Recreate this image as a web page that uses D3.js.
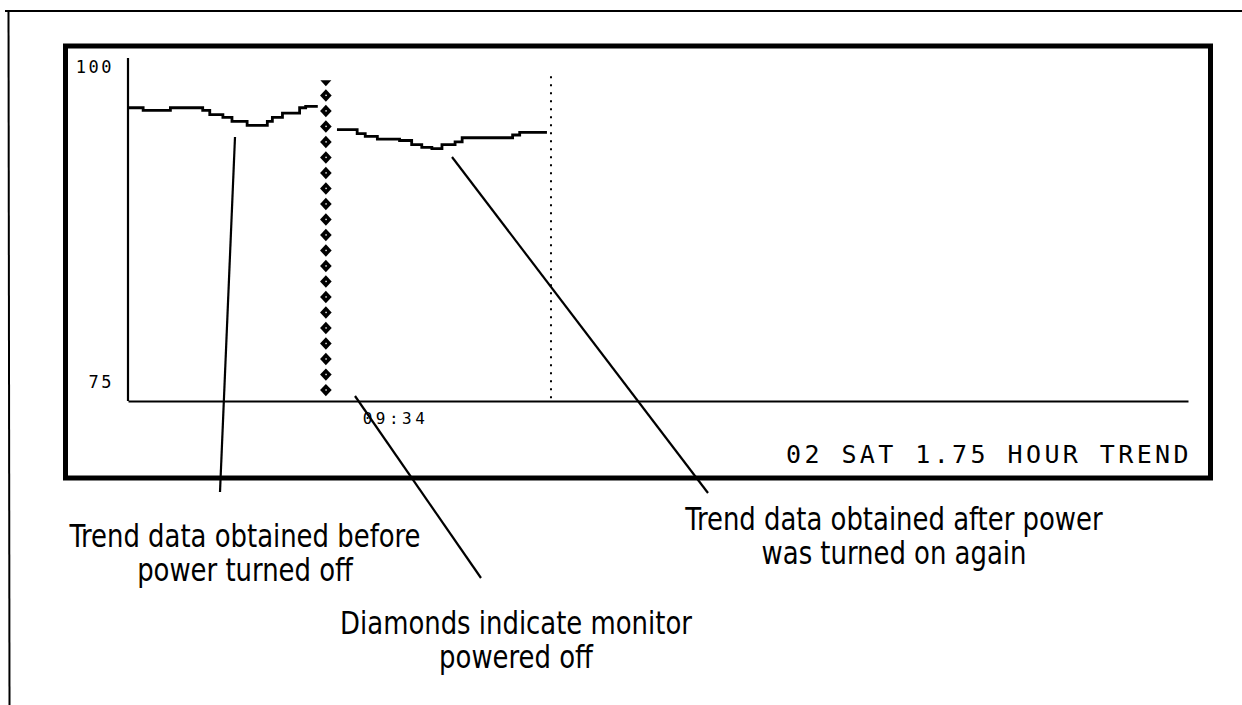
<!DOCTYPE html>
<html>
<head>
<meta charset="utf-8">
<script src="https://cdn.jsdelivr.net/npm/d3@7"></script>
<style>
  html, body { margin: 0; padding: 0; background: #fff; }
  svg { display: block; }
</style>
</head>
<body>
<svg id="chart" width="1242" height="705"></svg>
<script>
// ---------------- data ----------------
const yTickValues = [100, 75];
const yTickLabels = ["100", "75"];
const timeDomain = [0, 105];              // minutes across a 1.75 hour trend
const timeLabelMinutes = [26.5];
const timeLabels = ["09:34"];
const trendTitle = "02 SAT 1.75 HOUR TREND";

// trend before power off (minutes, % SpO2)
const beforeTime  = [0, 1.5, 4.2, 7.4, 8.1, 9.4, 10.3, 11.8, 13.8, 14.3, 15.3, 17.0, 17.6, 18.8];
const beforeValue = [96.5, 96.3, 96.5, 96.3, 96.0, 95.8, 95.5, 95.2, 95.5, 95.8, 96.1, 96.5, 96.6, 96.6];

// trend after power turned on again
const afterTime  = [20.7, 22.7, 23.5, 24.7, 26.9, 28.1, 29.1, 30.1, 31.1, 32.4, 33.1, 38.1, 38.8, 41.5];
const afterValue = [94.9, 94.6, 94.4, 94.2, 94.1, 93.8, 93.6, 93.5, 93.8, 94.0, 94.3, 94.5, 94.7, 94.7];

// power-off marker column
const powerOffTime = 19.6;
const diamondCount = 20;
const diamondTop = 97.4, diamondBottom = 75.8, markerTriangle = 98.3;

// current-time cursor
const cursorTime = 41.9;
const cursorTop = 98.8;

// annotation texts
const annotations = [
  { lines: ["Trend data obtained before", "power turned off"], cx: 245, y: 547, from: [235, 137], to: [220, 492] },
  { lines: ["Trend data obtained after power", "was turned on again"], cx: 894, y: 530, from: [452, 157], to: [708, 493] },
  { lines: ["Diamonds indicate monitor", "powered off"], cx: 516, y: 634, from: [355, 396], to: [481, 578] }
];

// ---------------- drawing ----------------
const svg = d3.select("#chart");
const monoFont = "'DejaVu Sans Mono', 'Liberation Mono', monospace";
const labelFont = "'Liberation Sans Narrow', 'DejaVu Sans Condensed', 'Roboto', sans-serif";

const x = d3.scaleLinear().domain(timeDomain).range([128, 1188]);
const y = d3.scaleLinear().domain([75, 100]).range([401, 60]);

// outer frame (top and left edges visible)
svg.append("line").attr("x1", 5).attr("x2", 1242).attr("y1", 11).attr("y2", 11)
  .attr("stroke", "#000").attr("stroke-width", 2);
svg.append("line").attr("x1", 8.5).attr("x2", 9.5).attr("y1", 10).attr("y2", 705)
  .attr("stroke", "#000").attr("stroke-width", 2);

// monitor screen box
svg.append("rect").attr("x", 65.5).attr("y", 46).attr("width", 1145).attr("height", 432)
  .attr("fill", "none").attr("stroke", "#000").attr("stroke-width", 5);

// axes
const yAxis = d3.axisLeft(y).tickValues([]).tickSizeOuter(0);
svg.append("g").attr("transform", `translate(${x(0)},0)`).call(yAxis)
  .call(g => g.select(".domain").attr("stroke-width", 2.2).attr("d", `M0,${y(100) - 2}V${y(75)}`));
const xAxis = d3.axisBottom(x).tickValues([]).tickSizeOuter(0);
svg.append("g").attr("transform", `translate(0,${y(75)})`).call(xAxis)
  .call(g => g.select(".domain").attr("stroke-width", 2.2));

// y labels
svg.selectAll("text.ylab").data(yTickValues).enter().append("text")
  .attr("class", "ylab")
  .attr("x", x(0) - 14)
  .attr("y", (d, i) => i === 0 ? y(d) + 13 : y(d) - 13)
  .attr("text-anchor", "end")
  .attr("font-family", monoFont).attr("font-size", 17)
  .attr("letter-spacing", 2.5)
  .text((d, i) => yTickLabels[i]);

// time label
svg.selectAll("text.tlab").data(timeLabelMinutes).enter().append("text")
  .attr("class", "tlab")
  .attr("x", d => x(d)).attr("y", y(75) + 23)
  .attr("text-anchor", "middle")
  .attr("font-family", monoFont).attr("font-size", 16)
  .attr("letter-spacing", 3.5)
  .text((d, i) => timeLabels[i]);

// title
svg.append("text").attr("x", 1192).attr("y", 463)
  .attr("text-anchor", "end")
  .attr("font-family", monoFont).attr("font-size", 25)
  .attr("letter-spacing", 3.4)
  .text(trendTitle);

// trend lines
const line = d3.line().x(d => x(d[0])).y(d => y(d[1])).curve(d3.curveStepAfter);
function series(t, v) { return t.map((d, i) => [d, v[i]]); }
[series(beforeTime, beforeValue), series(afterTime, afterValue)].forEach(s => {
  svg.append("path").datum(s).attr("d", line)
    .attr("fill", "none").attr("stroke", "#000").attr("stroke-width", 2.8);
});

// power-off diamonds
const diamondVals = d3.range(diamondCount).map(i => diamondTop + (diamondBottom - diamondTop) * i / (diamondCount - 1));
const dg = svg.append("g");
dg.selectAll("path.dia").data(diamondVals).enter().append("path")
  .attr("class", "dia")
  .attr("transform", d => `translate(${x(powerOffTime)},${y(d)})`)
  .attr("d", "M0,-6.2L5.8,0L0,6.2L-5.8,0Z")
  .attr("fill", "#000");
dg.selectAll("rect.dot").data(diamondVals).enter().append("rect")
  .attr("x", x(powerOffTime) - 0.5).attr("y", d => y(d) - 0.8)
  .attr("width", 1.4).attr("height", 1.4).attr("fill", "#fff");
dg.append("path")
  .attr("transform", `translate(${x(powerOffTime)},${y(markerTriangle)})`)
  .attr("d", "M-5.5,-3L5.5,-3L0,3Z").attr("fill", "#000");

// current time cursor (dotted)
svg.append("line")
  .attr("x1", x(cursorTime)).attr("x2", x(cursorTime))
  .attr("y1", y(cursorTop)).attr("y2", y(75))
  .attr("stroke", "#000").attr("stroke-width", 2)
  .attr("stroke-dasharray", "2,6");

// annotations
annotations.forEach(a => {
  svg.append("line")
    .attr("x1", a.from[0]).attr("y1", a.from[1])
    .attr("x2", a.to[0]).attr("y2", a.to[1])
    .attr("stroke", "#000").attr("stroke-width", 2.2);
  const t = svg.append("text")
    .attr("transform", `translate(${a.cx},${a.y}) scale(0.9,1)`)
    .attr("text-anchor", "middle")
    .attr("font-family", labelFont).attr("font-size", 32)
    .attr("fill", "#000");
  a.lines.forEach((l, i) => {
    t.append("tspan").attr("x", 0).attr("y", i * 34).text(l);
  });
});
</script>
</body>
</html>
